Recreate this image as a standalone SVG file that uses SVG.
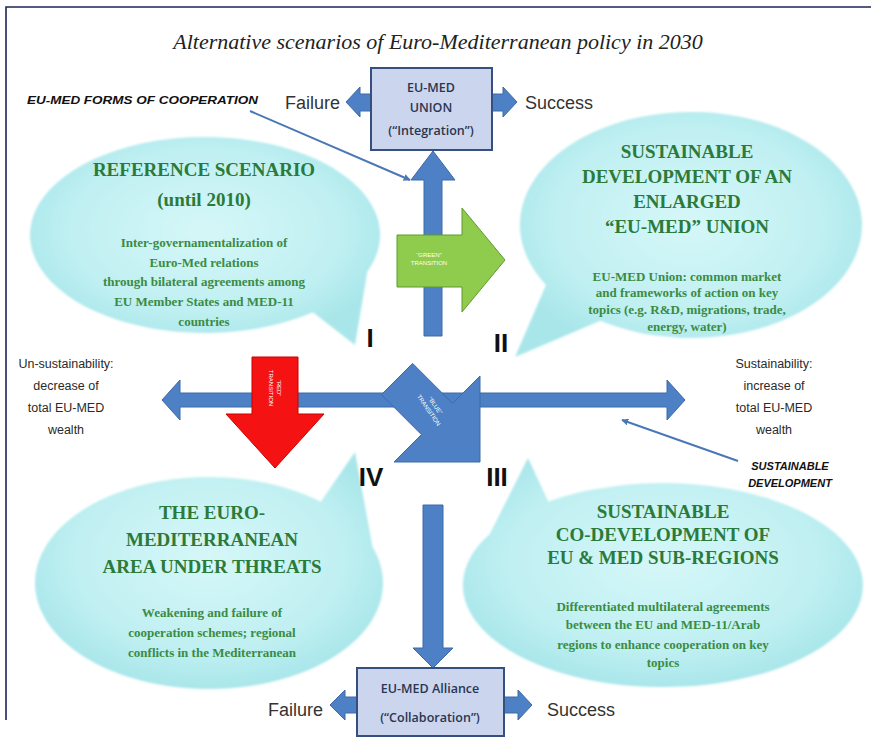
<svg xmlns="http://www.w3.org/2000/svg" width="871" height="745" viewBox="0 0 871 745">
<defs>
<radialGradient id="bub" cx="50%" cy="45%" r="55%">
<stop offset="0" stop-color="#d6f7f8"/>
<stop offset="0.7" stop-color="#c0f0f2"/>
<stop offset="1" stop-color="#a9e6ea"/>
</radialGradient>
<filter id="soft" x="-5%" y="-5%" width="110%" height="110%"><feGaussianBlur stdDeviation="1.2"/></filter>
<marker id="thin" viewBox="0 0 10 10" refX="9" refY="5" markerWidth="7" markerHeight="7" orient="auto" markerUnits="userSpaceOnUse"><path d="M0,0 L10,5 L0,10 z" fill="#4a78b5"/></marker>
</defs>
<style>
.bub{fill:url(#bub);filter:url(#soft)}
.ttl{font-family:"Liberation Serif",serif;font-weight:700;font-size:19px;fill:#2b7a3a;text-anchor:middle}
.body{font-family:"Liberation Serif",serif;font-weight:700;font-size:13px;fill:#3a8c44;text-anchor:middle}
.box{fill:#cbd6ee;stroke:#35507f;stroke-width:2}
.boxt{font-family:"Open Sans",sans-serif;font-weight:600;font-size:12.5px;fill:#2a3550;text-anchor:middle}
.blue{fill:#4d80c4;stroke:#3d6aa8;stroke-width:1}
.fs{font-family:"Liberation Sans",sans-serif;font-size:18px;fill:#333}
.side{font-family:"Liberation Sans",sans-serif;font-size:12.5px;fill:#2a2a2a;text-anchor:middle}
.bi{font-family:"Liberation Sans",sans-serif;font-weight:700;font-style:italic;font-size:11px;fill:#111}
.rom{font-family:"Liberation Sans",sans-serif;font-weight:700;font-size:26px;fill:#111;text-anchor:middle}
.tr{font-family:"Liberation Sans",sans-serif;font-size:6px;fill:#fff;text-anchor:middle}
.thin{stroke:#4a78b5;stroke-width:2;fill:none;marker-end:url(#thin)}
</style>
<rect width="871" height="745" fill="#fff"/>
<path d="M6,720 V7 H871" fill="none" stroke="#1c2559" stroke-width="1.6"/>
<text x="438" y="49" font-family="Liberation Serif, serif" font-style="italic" font-size="22" fill="#222" text-anchor="middle">Alternative scenarios of Euro-Mediterranean policy in 2030</text>

<g id="scenario-1">
<path class="bub" d="M367.3,271.7 L355,345 L312.8,312.2 A175 98 0 1 1 367.3,271.7 Z"/>
<text class="ttl" x="204" y="176">REFERENCE SCENARIO</text>
<text class="ttl" x="204" y="206">(until 2010)</text>
<text class="body" x="204" y="247">Inter-governamentalization of</text>
<text class="body" x="204" y="267">Euro-Med relations</text>
<text class="body" x="204" y="286">through bilateral agreements among</text>
<text class="body" x="204" y="306">EU Member States and MED-11</text>
<text class="body" x="204" y="326">countries</text>
</g>

<g id="scenario-2">
<path class="bub" d="M600.4,320.8 L515,357 L546,284.9 A171 113 0 1 1 600.4,320.8 Z"/>
<text class="ttl" x="687" y="158">SUSTAINABLE</text>
<text class="ttl" x="687" y="183">DEVELOPMENT OF AN</text>
<text class="ttl" x="687" y="208">ENLARGED</text>
<text class="ttl" x="687" y="233">“EU-MED” UNION</text>
<text class="body" x="687" y="281">EU-MED Union: common market</text>
<text class="body" x="687" y="297">and frameworks of action on key</text>
<text class="body" x="687" y="314">topics (e.g. R&amp;D, migrations, trade,</text>
<text class="body" x="687" y="331">energy, water)</text>
</g>

<g id="scenario-4">
<path class="bub" d="M372.5,546.7 L355,452 L320.9,501.8 A174 106 0 1 0 372.5,546.7 Z"/>
<text class="ttl" x="212" y="519">THE EURO-</text>
<text class="ttl" x="212" y="546">MEDITERRANEAN</text>
<text class="ttl" x="212" y="573">AREA UNDER THREATS</text>
<text class="body" x="212" y="617">Weakening and failure of</text>
<text class="body" x="212" y="637">cooperation schemes; regional</text>
<text class="body" x="212" y="657">conflicts in the Mediterranean</text>
</g>

<g id="scenario-3">
<path class="bub" d="M489.8,534 L528,458 L548.3,501.5 A200 102 0 1 1 489.8,534 Z"/>
<text class="ttl" x="663" y="518">SUSTAINABLE</text>
<text class="ttl" x="663" y="541">CO-DEVELOPMENT OF</text>
<text class="ttl" x="663" y="564">EU &amp; MED SUB-REGIONS</text>
<text class="body" x="663" y="611">Differentiated multilateral agreements</text>
<text class="body" x="663" y="629">between the EU and MED-11/Arab</text>
<text class="body" x="663" y="649">regions to enhance cooperation on key</text>
<text class="body" x="663" y="667">topics</text>
</g>

<g id="connectors">
<polygon class="blue" points="162,400 180,380 180,393 667,393 667,380 685,400 667,420 667,407 180,407 180,420"/>
<polygon class="blue" points="433,151 455,180 442,180 442,336 424,336 424,180 411,180"/>
<polygon class="blue" points="423,505 443,505 443,648 453,648 433,668 413,648 423,648"/>
<polygon class="blue" points="371,94 360,94 360,87 346,102 360,117 360,111 371,111"/>
<polygon class="blue" points="492,94 503,94 503,87 517,102 503,117 503,111 492,111"/>
<polygon class="blue" points="357,697 345,697 345,690 330,705 345,720 345,713 357,713"/>
<polygon class="blue" points="504,697 518,697 518,690 532,705 518,720 518,713 504,713"/>
<line class="thin" x1="250" y1="111" x2="410" y2="180"/>
<line class="thin" x1="738" y1="461" x2="622" y2="420"/>
</g>

<g id="green-transition">
<polygon points="397,235 462,235 462,208 505,260 462,312 462,287 397,287" fill="#8fcb4c" stroke="#5f9a2e" stroke-width="1"/>
<text class="tr" x="429" y="257">“GREEN”</text>
<text class="tr" x="429" y="265">TRANSITION</text>
</g>
<g id="red-transition">
<polygon points="252,357 298,357 298,414 324,414 275,468 226,414 252,414" fill="#f51212" stroke="#c80000" stroke-width="1"/>
<g transform="translate(275,388) rotate(90)">
<text class="tr" x="0" y="-2">“RED”</text>
<text class="tr" x="0" y="6">TRANSITION</text>
</g>
</g>
<g id="blue-transition">
<polygon class="blue" points="412.6,363.4 452.6,403.4 480,376 480,462 394,462 421.4,434.6 381.4,394.6"/>
<g transform="translate(432,408) rotate(55)">
<text class="tr" x="0" y="-2">“BLUE”</text>
<text class="tr" x="0" y="6">TRANSITION</text>
</g>
</g>

<g id="union-box">
<rect class="box" x="371" y="68" width="121" height="82"/>
<text class="boxt" x="431" y="92">EU-MED</text>
<text class="boxt" x="431" y="112">UNION</text>
<text class="boxt" x="431" y="135">(“Integration”)</text>
</g>
<g id="alliance-box">
<rect class="box" x="357" y="668" width="147" height="68"/>
<text class="boxt" x="430" y="693" font-size="13">EU-MED Alliance</text>
<text class="boxt" x="430" y="722" font-size="13">(“Collaboration”)</text>
</g>

<g id="labels">
<text class="fs" x="340" y="109" text-anchor="end">Failure</text>
<text class="fs" x="525" y="109">Success</text>
<text class="fs" x="323" y="716" text-anchor="end">Failure</text>
<text class="fs" x="547" y="716">Success</text>
<text class="bi" x="27" y="104" textLength="231" lengthAdjust="spacingAndGlyphs">EU-MED FORMS OF COOPERATION</text>
<text class="bi" x="790" y="470" text-anchor="middle">SUSTAINABLE</text>
<text class="bi" x="790" y="487" text-anchor="middle">DEVELOPMENT</text>
<text class="side" x="66" y="368">Un-sustainability:</text>
<text class="side" x="66" y="390">decrease of</text>
<text class="side" x="66" y="412">total EU-MED</text>
<text class="side" x="66" y="434">wealth</text>
<text class="side" x="774" y="368">Sustainability:</text>
<text class="side" x="774" y="390">increase of</text>
<text class="side" x="774" y="412">total EU-MED</text>
<text class="side" x="774" y="434">wealth</text>
<text class="rom" x="370" y="347">I</text>
<text class="rom" x="501" y="352">II</text>
<text class="rom" x="371" y="486">IV</text>
<text class="rom" x="497" y="486">III</text>
</g>
</svg>
